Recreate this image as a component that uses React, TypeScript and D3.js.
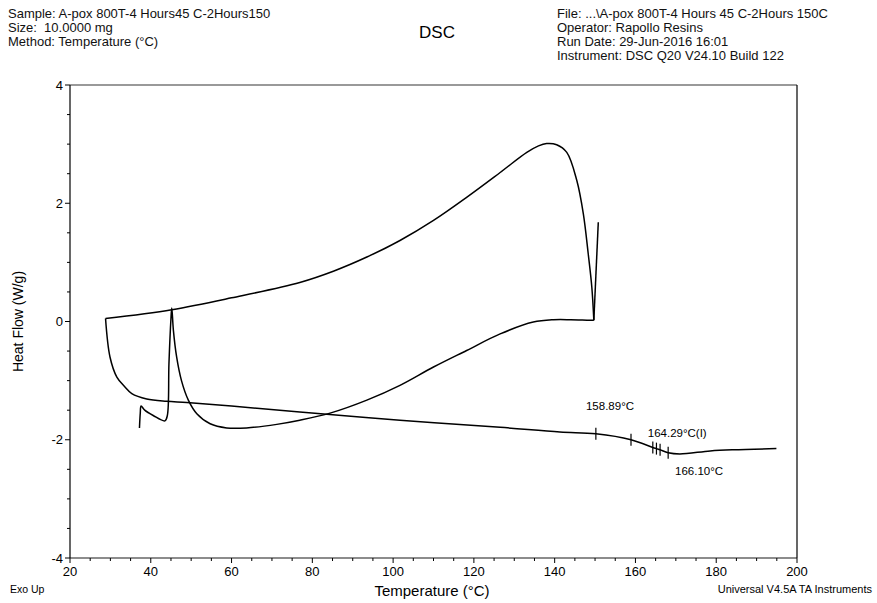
import React, { useEffect, useRef } from 'react';
import * as d3 from 'd3';

// final heating scan (after cure)
const reheatTemp = [28.8, 29.9, 31.6, 33.5, 35.3, 39.0, 43.9, 48.9, 60.0, 76.9, 101.7, 126.5, 141.3, 150.2, 158.9, 164.3, 165.2, 166.1, 168.1, 171.0, 178.5, 184.2, 194.9];
const reheatFlow = [0.05, -0.6, -0.94, -1.1, -1.22, -1.31, -1.35, -1.37, -1.43, -1.53, -1.67, -1.79, -1.87, -1.9, -2.0, -2.13, -2.15, -2.17, -2.22, -2.24, -2.19, -2.17, -2.15];

// first heating scan up to 150
const firstTemp = [37.2, 37.4, 37.6, 38.5, 40.6, 43.5, 44.1, 44.5, 45.0, 45.2, 45.6, 46.4, 47.6, 49.3, 51.4, 54.7, 58.8, 63.7, 71.2, 76.9, 84.4, 93.5, 101.7, 110.0, 118.2, 126.5, 134.7, 139.7, 144.0, 148.7, 149.7];
const firstFlow = [-1.8, -1.55, -1.43, -1.5, -1.59, -1.68, -1.59, -0.71, 0.05, 0.23, -0.15, -0.6, -1.0, -1.33, -1.56, -1.73, -1.8, -1.8, -1.74, -1.67, -1.55, -1.33, -1.08, -0.77, -0.49, -0.21, -0.01, 0.03, 0.03, 0.02, 0.02];

// cooling scan (upper curve)
const coolTemp = [28.8, 45.2, 60.0, 76.9, 85.2, 93.5, 101.7, 110.0, 118.2, 126.5, 133.1, 136.0, 138.0, 140.5, 143.0, 145.5, 147.1, 148.3, 149.2, 149.7];
const coolFlow = [0.05, 0.2, 0.4, 0.66, 0.85, 1.09, 1.37, 1.71, 2.1, 2.52, 2.86, 2.97, 3.01, 2.99, 2.86, 2.38, 1.82, 1.15, 0.58, 0.02];

// transient at 150
const spikeTemp = [149.7, 150.8];
const spikeFlow = [0.02, 1.68];

// glass transition analysis marks on the reheat curve
const markTemps = [150.2, 158.9, 164.3, 165.2, 166.1, 168.1];
const markLabels = ['158.89°C', '164.29°C(I)', '166.10°C'];
const markLabelTemps = [158.89, 164.29, 166.1];

const xTicks = [20, 40, 60, 80, 100, 120, 140, 160, 180, 200];
const yTicks = [4, 2, 0, -2, -4];

const headerLeft = ['Sample: A-pox 800T-4 Hours45 C-2Hours150', 'Size:  10.0000 mg', 'Method: Temperature (°C)'];
const headerRight = ['File: ...\\A-pox 800T-4 Hours 45 C-2Hours 150C', 'Operator: Rapollo Resins', 'Run Date: 29-Jun-2016 16:01', 'Instrument: DSC Q20 V24.10 Build 122'];

const W = 877;
const H = 603;
const FONT = 'Liberation Sans, Arial, sans-serif';

const App: React.FC = () => {
  const svgRef = useRef<SVGSVGElement>(null);

  useEffect(() => {
    if (!svgRef.current) return;
    const root = d3.select(svgRef.current);
    root.selectAll('*').remove();
    root.attr('width', W).attr('height', H).style('font-family', FONT);

    const margin = { top: 85, right: 80, bottom: 45, left: 70 };
    const x = d3.scaleLinear().domain([20, 200]).range([margin.left, W - margin.right]);
    const y = d3.scaleLinear().domain([-4, 4]).range([H - margin.bottom, margin.top]);

    // header
    const hl = root.append('g').attr('font-size', 13).attr('fill', '#111');
    headerLeft.forEach((t, i) => {
      hl.append('text').attr('x', 8).attr('y', 18 + i * 14).attr('xml:space', 'preserve').text(t);
    });
    headerRight.forEach((t, i) => {
      hl.append('text').attr('x', 557).attr('y', 18 + i * 14).text(t);
    });
    root.append('text').attr('x', 437).attr('y', 38).attr('text-anchor', 'middle')
      .attr('font-size', 17).text('DSC');

    // frame
    const [x0, x1] = x.range();
    const [y0, y1] = y.range();
    root.append('line').attr('x1', x0).attr('x2', x1).attr('y1', y1).attr('y2', y1)
      .attr('stroke', '#777').attr('stroke-width', 1.5);
    root.append('line').attr('x1', x0).attr('x2', x1).attr('y1', y0).attr('y2', y0)
      .attr('stroke', '#666').attr('stroke-width', 1.5);
    root.append('line').attr('x1', x0).attr('x2', x0).attr('y1', y1).attr('y2', y0)
      .attr('stroke', '#000').attr('stroke-width', 1.2);
    root.append('line').attr('x1', x1).attr('x2', x1).attr('y1', y1).attr('y2', y0)
      .attr('stroke', '#000').attr('stroke-width', 1.2);

    // x ticks
    const xMinor = d3.range(20, 200.1, 5);
    root.append('g').selectAll('line').data(xMinor).enter().append('line')
      .attr('x1', d => x(d)).attr('x2', d => x(d))
      .attr('y1', y0).attr('y2', d => y0 + (d % 20 === 0 ? 5 : 3))
      .attr('stroke', '#000');
    root.append('g').selectAll('text').data(xTicks).enter().append('text')
      .attr('x', d => x(d)).attr('y', y0 + 18).attr('text-anchor', 'middle')
      .attr('font-size', 13).text(d => d);

    // y ticks
    const yMinor = d3.range(-4, 4.01, 0.5);
    root.append('g').selectAll('line').data(yMinor).enter().append('line')
      .attr('x1', x0).attr('x2', d => x0 - (d % 2 === 0 ? 5 : 3))
      .attr('y1', d => y(d)).attr('y2', d => y(d))
      .attr('stroke', '#000');
    root.append('g').selectAll('text').data(yTicks).enter().append('text')
      .attr('x', x0 - 7).attr('y', d => y(d) + 4.5).attr('text-anchor', 'end')
      .attr('font-size', 13).text(d => d);

    // axis titles
    root.append('text').attr('transform', `translate(23,${y(0)}) rotate(-90)`)
      .attr('text-anchor', 'middle').attr('font-size', 14).text('Heat Flow (W/g)');
    root.append('text').attr('x', 432).attr('y', 596).attr('text-anchor', 'middle')
      .attr('font-size', 15).text('Temperature (°C)');
    root.append('text').attr('x', 10).attr('y', 593).attr('font-size', 10.5).text('Exo Up');
    root.append('text').attr('x', 872).attr('y', 593).attr('text-anchor', 'end')
      .attr('font-size', 11).text('Universal V4.5A TA Instruments');

    // curves
    const line = d3.line<[number, number]>()
      .x(d => x(d[0])).y(d => y(d[1]))
      .curve(d3.curveCatmullRom.alpha(0.5));
    const series: [number[], number[]][] = [
      [reheatTemp, reheatFlow],
      [firstTemp, firstFlow],
      [coolTemp, coolFlow],
      [spikeTemp, spikeFlow],
    ];
    const curves = root.append('g').attr('fill', 'none').attr('stroke', '#000')
      .attr('stroke-width', 1.5).attr('stroke-linejoin', 'round');
    series.forEach(([t, f]) => {
      curves.append('path').attr('d', line(t.map((v, i) => [v, f[i]] as [number, number])));
    });

    // analysis marks
    const flowAt = (t: number) => {
      const i = Math.max(1, d3.bisectLeft(reheatTemp, t));
      const a = reheatTemp[i - 1], b = reheatTemp[i];
      const k = (t - a) / (b - a);
      return reheatFlow[i - 1] + k * (reheatFlow[i] - reheatFlow[i - 1]);
    };
    root.append('g').selectAll('line').data(markTemps).enter().append('line')
      .attr('x1', d => x(d)).attr('x2', d => x(d))
      .attr('y1', d => y(flowAt(d)) - 6).attr('y2', d => y(flowAt(d)) + 6)
      .attr('stroke', '#000').attr('stroke-width', 1.2);
    const labelDx = [-45, -5, 15];
    const labelDy = [-30, -10, 25];
    root.append('g').selectAll('text').data(markLabels).enter().append('text')
      .attr('x', (d, i) => x(markLabelTemps[i]) + labelDx[i])
      .attr('y', (d, i) => y(flowAt(markLabelTemps[i])) + labelDy[i])
      .attr('font-size', 11.5).text(d => d);
  }, []);

  return (
    <svg ref={svgRef} style={{ position: 'absolute', left: 0, top: 0, background: '#fff' }} />
  );
};

export default App;
